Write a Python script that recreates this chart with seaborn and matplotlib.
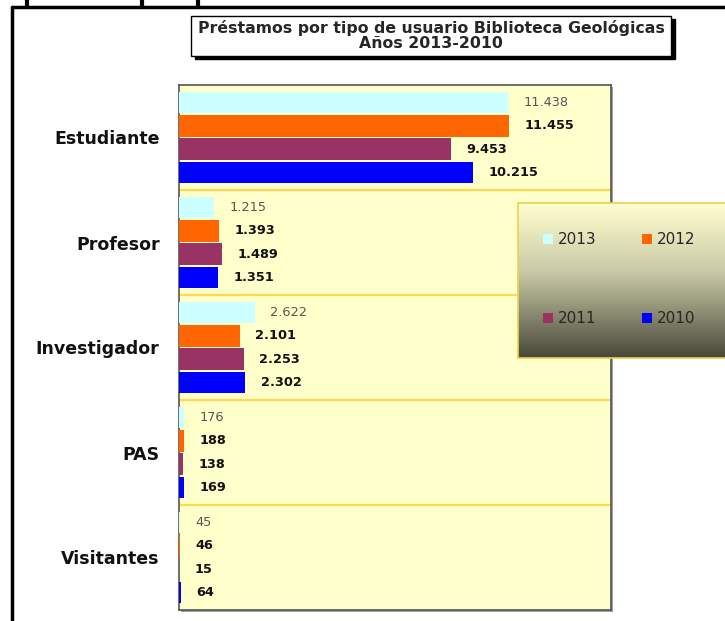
import numpy as np
import pandas as pd
import matplotlib
matplotlib.use("Agg")
import matplotlib.pyplot as plt
import seaborn as sns
from matplotlib.patches import Rectangle
from matplotlib.lines import Line2D

categories = ["Estudiante", "Profesor", "Investigador", "PAS", "Visitantes"]
years = ["2013", "2012", "2011", "2010"]
v2013 = [11438, 1215, 2622, 176, 45]
v2012 = [11455, 1393, 2101, 188, 46]
v2011 = [9453, 1489, 2253, 138, 15]
v2010 = [10215, 1351, 2302, 169, 64]
colors = ["#CCFFFF", "#FF6600", "#993366", "#0000FF"]

rows = []
for year, vals in zip(years, [v2013, v2012, v2011, v2010]):
    for cat, v in zip(categories, vals):
        rows.append({"categoria": cat, "valor": v, "año": year})
df = pd.DataFrame(rows)

sns.set_style("white")
plt.rcParams["font.family"] = ["DejaVu Sans"]

W, H = 725, 621
fig = plt.figure(figsize=(W / 100, H / 100), dpi=100)

def fx(px):
    return px / W

def fy(py):
    return 1 - py / H

# outer frame of the screenshot
fig.add_artist(Line2D([fx(12), fx(12)], [fy(7), 0], color="black", lw=2.5, transform=fig.transFigure))
fig.add_artist(Line2D([fx(12), 1], [fy(7), fy(7)], color="black", lw=2.5, transform=fig.transFigure))
for tx in [27, 142, 198]:
    fig.add_artist(Line2D([fx(tx), fx(tx)], [0.9995, fy(7)], color="black", lw=3,
                          solid_capstyle="butt", transform=fig.transFigure))

# plot shadow
fig.add_artist(Rectangle((fx(181), fy(612)), fx(611) - fx(179), fy(85) - fy(610),
                         transform=fig.transFigure, facecolor="#A0A0A0", edgecolor="none", zorder=0))

ax = fig.add_axes([fx(179), fy(610), fx(611) - fx(179), fy(85) - fy(610)])
ax.set_facecolor("#FFFFCC")

sns.barplot(data=df, y="categoria", x="valor", hue="año", hue_order=years,
            palette=colors, saturation=1, orient="h", width=0.88, gap=0.08, ax=ax,
            linewidth=0, zorder=3)

handles, labels = ax.get_legend_handles_labels()
if ax.get_legend() is not None:
    ax.get_legend().remove()

ax.set_xlim(0, 15000)
ax.set_ylim(4.5, -0.5)
ax.set_xticks([])
ax.set_xlabel("")
ax.set_ylabel("")
ax.tick_params(axis="y", length=0, pad=14)
for lbl in ax.get_yticklabels():
    lbl.set_fontweight("bold")
    lbl.set_fontsize(12.5)
    lbl.set_color("#111111")

for y in [0.5, 1.5, 2.5, 3.5]:
    ax.axhline(y, color="#FFD850", lw=1.6, zorder=2)

for sp in ax.spines.values():
    sp.set_color("#555555")
    sp.set_linewidth(1.2)

def fmt(v):
    return f"{int(v):,}".replace(",", ".")

for i, cont in enumerate(ax.containers):
    labs = [fmt(b.get_width()) for b in cont]
    if i == 0:
        ax.bar_label(cont, labels=labs, padding=11, fontsize=9.3, color="#555555")
    else:
        ax.bar_label(cont, labels=labs, padding=11, fontsize=9.3, fontweight="bold", color="#111111")

# legend box with gradient
lax = fig.add_axes([fx(518), fy(358), fx(740) - fx(518), fy(203) - fy(358)], zorder=4)
top = np.array([255, 255, 208]) / 255
mid = np.array([200, 200, 165]) / 255
bot = np.array([72, 72, 58]) / 255
t = np.linspace(0, 1, 200)[:, None]
grad = np.where(t < 0.45, top + (mid - top) * (t / 0.45), mid + (bot - mid) * ((t - 0.45) / 0.55))
lax.imshow(grad[:, None, :].repeat(2, axis=1), aspect="auto", extent=[0, 1, 0, 1], origin="upper")
lax.set_xticks([])
lax.set_yticks([])
for sp in lax.spines.values():
    sp.set_color("#F0D050")
    sp.set_linewidth(1.2)

# row-major order: 2013 2012 / 2011 2010
order = [0, 2, 1, 3]
leg = fig.legend([handles[k] for k in order], [labels[k] for k in order], ncol=2, loc="upper left",
                 bbox_to_anchor=(fx(543), fy(232)), frameon=False, fontsize=11,
                 handlelength=0.65, handleheight=0.65, handletextpad=0.3,
                 columnspacing=3.0, labelspacing=4.2, borderpad=0, borderaxespad=0)
leg.set_zorder(10)

# title box
fig.add_artist(Rectangle((fx(195), fy(59)), fx(671) - fx(191), fy(16) - fy(56),
                         transform=fig.transFigure, facecolor="black", edgecolor="black", zorder=5))
fig.add_artist(Rectangle((fx(191), fy(56)), fx(671) - fx(191), fy(16) - fy(56),
                         transform=fig.transFigure, facecolor="white", edgecolor="black", lw=1, zorder=6))
fig.text(fx(431), fy(36), "Préstamos por tipo de usuario Biblioteca Geológicas\nAños 2013-2010",
         ha="center", va="center", fontsize=11.3, fontweight="bold", linespacing=1.0, zorder=7)

fig.savefig("out.png", dpi=100)
